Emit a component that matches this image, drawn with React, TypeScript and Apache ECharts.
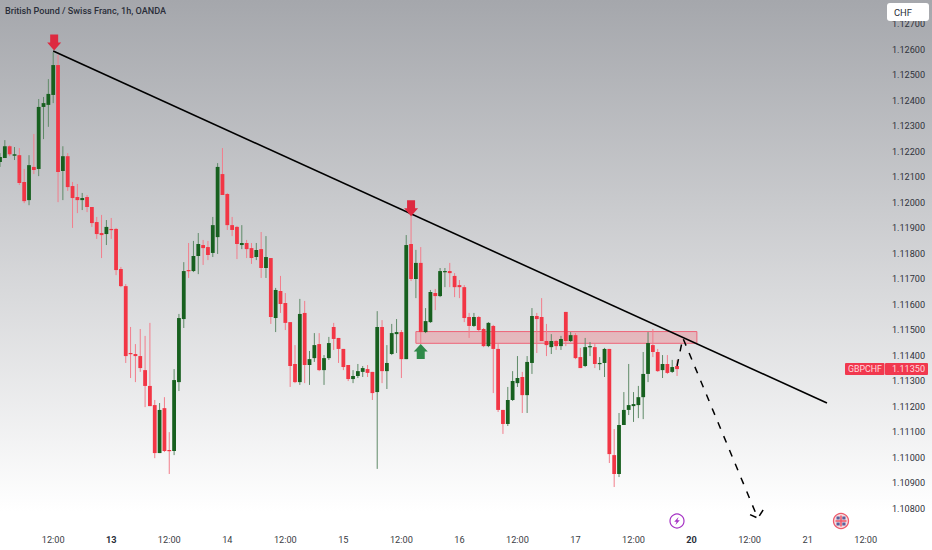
import React, { useEffect, useRef } from "react";
import * as echarts from "echarts";

const title = "British Pound / Swiss Franc, 1h, OANDA";
const firstHour = 1;
const opens = [1.12159,1.12175,1.12221,1.12184,1.12186,1.12081,1.12010,1.12140,1.12132,1.12375,1.12383,1.12422,1.12539,1.12124,1.12182,1.12065,1.12022,1.12010,1.12022,1.11983,1.11924,1.11881,1.11877,1.11897,1.11897,1.11740,1.11673,1.11411,1.11407,1.11399,1.11344,1.11282,1.11207,1.11019,1.11195,1.11031,1.11027,1.11297,1.11544,1.11736,1.11732,1.11791,1.11834,1.11826,1.11803,1.11865,1.12112,1.12034,1.11912,1.11905,1.11834,1.11842,1.11822,1.11787,1.11818,1.11744,1.11783,1.11548,1.11654,1.11607,1.11532,1.11368,1.11297,1.11568,1.11364,1.11391,1.11446,1.11344,1.11391,1.11513,1.11470,1.11427,1.11364,1.11309,1.11321,1.11337,1.11348,1.11337,1.11258,1.11513,1.11340,1.11407,1.11485,1.11493,1.11387,1.11838,1.11701,1.11764,1.11493,1.11532,1.11646,1.11634,1.11728,1.11732,1.11713,1.11677,1.11669,1.11552,1.11517,1.11552,1.11505,1.11438,1.11517,1.11427,1.11188,1.11133,1.11227,1.11293,1.11317,1.11246,1.11372,1.11556,1.11552,1.11458,1.11434,1.11458,1.11438,1.11572,1.11458,1.11481,1.11395,1.11360,1.11434,1.11434,1.11368,1.11372,1.11427,1.11011,1.10937,1.11129,1.11188,1.11203,1.11207,1.11238,1.11329,1.11442,1.11415,1.11344,1.11368,1.11337,1.11360];
const highs = [1.12194,1.12245,1.12225,1.12218,1.12214,1.12132,1.12186,1.12269,1.12406,1.12414,1.12484,1.12590,1.12579,1.12221,1.12194,1.12081,1.12073,1.12038,1.12030,1.11983,1.11944,1.11952,1.11932,1.11940,1.11901,1.11748,1.11681,1.11513,1.11446,1.11505,1.11478,1.11529,1.11227,1.11215,1.11238,1.11101,1.11348,1.11564,1.11767,1.11842,1.11850,1.11881,1.11854,1.11850,1.11944,1.12155,1.12214,1.12038,1.11944,1.11909,1.11912,1.11854,1.11842,1.11842,1.11885,1.11869,1.11783,1.11666,1.11713,1.11646,1.11532,1.11442,1.11623,1.11615,1.11419,1.11489,1.11489,1.11403,1.11474,1.11529,1.11470,1.11427,1.11364,1.11344,1.11368,1.11360,1.11364,1.11337,1.11575,1.11540,1.11442,1.11525,1.11544,1.11501,1.11873,1.11952,1.11815,1.11826,1.11587,1.11658,1.11662,1.11744,1.11744,1.11764,1.11724,1.11697,1.11677,1.11568,1.11568,1.11556,1.11509,1.11532,1.11521,1.11446,1.11188,1.11278,1.11340,1.11399,1.11337,1.11399,1.11587,1.11568,1.11626,1.11525,1.11485,1.11462,1.11478,1.11572,1.11493,1.11489,1.11431,1.11470,1.11454,1.11446,1.11395,1.11431,1.11427,1.11113,1.11176,1.11258,1.11368,1.11258,1.11282,1.11415,1.11493,1.11505,1.11427,1.11403,1.11403,1.11384,1.11384];
const lows = [1.12140,1.12175,1.12182,1.12167,1.12069,1.11998,1.11990,1.12112,1.12104,1.12249,1.12297,1.12390,1.12002,1.12010,1.12046,1.11901,1.11959,1.11971,1.11963,1.11905,1.11858,1.11783,1.11834,1.11858,1.11716,1.11669,1.11372,1.11313,1.11297,1.11337,1.11199,1.11203,1.10999,1.11019,1.11023,1.10937,1.11011,1.11262,1.11509,1.11705,1.11728,1.11720,1.11756,1.11775,1.11787,1.11799,1.12030,1.11893,1.11869,1.11779,1.11818,1.11783,1.11760,1.11775,1.11705,1.11705,1.11525,1.11493,1.11568,1.11501,1.11278,1.11293,1.11286,1.11293,1.11286,1.11376,1.11340,1.11286,1.11384,1.11423,1.11372,1.11344,1.11301,1.11293,1.11313,1.11317,1.11317,1.11227,1.10957,1.11293,1.11270,1.11403,1.11411,1.11313,1.11387,1.11693,1.11626,1.11450,1.11489,1.11529,1.11579,1.11630,1.11669,1.11669,1.11630,1.11626,1.11532,1.11470,1.11513,1.11497,1.11434,1.11434,1.11254,1.11180,1.11094,1.11125,1.11223,1.11278,1.11176,1.11176,1.11329,1.11411,1.11458,1.11399,1.11407,1.11423,1.11423,1.11438,1.11454,1.11387,1.11352,1.11356,1.11399,1.11352,1.11344,1.11317,1.10980,1.10886,1.10925,1.11129,1.11168,1.11141,1.11156,1.11152,1.11297,1.11395,1.11337,1.11313,1.11329,1.11333,1.11321];
const closes = [1.12179,1.12221,1.12190,1.12190,1.12077,1.12006,1.12147,1.12128,1.12375,1.12390,1.12426,1.12539,1.12120,1.12182,1.12061,1.12018,1.12010,1.12018,1.11983,1.11920,1.11877,1.11873,1.11905,1.11893,1.11736,1.11673,1.11399,1.11407,1.11399,1.11352,1.11282,1.11203,1.11019,1.11188,1.11027,1.11027,1.11305,1.11548,1.11732,1.11732,1.11791,1.11838,1.11822,1.11795,1.11912,1.12140,1.12030,1.11912,1.11893,1.11838,1.11842,1.11818,1.11783,1.11815,1.11744,1.11787,1.11552,1.11658,1.11603,1.11529,1.11360,1.11297,1.11564,1.11364,1.11387,1.11442,1.11344,1.11391,1.11450,1.11466,1.11427,1.11356,1.11309,1.11321,1.11340,1.11352,1.11333,1.11254,1.11513,1.11340,1.11372,1.11489,1.11493,1.11387,1.11834,1.11701,1.11764,1.11493,1.11536,1.11650,1.11634,1.11732,1.11732,1.11724,1.11669,1.11669,1.11548,1.11517,1.11552,1.11501,1.11438,1.11529,1.11427,1.11188,1.11133,1.11227,1.11301,1.11313,1.11246,1.11376,1.11556,1.11544,1.11458,1.11442,1.11458,1.11438,1.11466,1.11458,1.11481,1.11391,1.11352,1.11434,1.11438,1.11368,1.11372,1.11427,1.11015,1.10937,1.11129,1.11188,1.11207,1.11211,1.11238,1.11329,1.11450,1.11415,1.11340,1.11368,1.11333,1.11356,1.11348];
const timeTicks = [12,24,36,48,60,72,84,96,108,120,132,144,156,168,180];
const timeLabels = ["12:00","13","12:00","14","12:00","15","12:00","16","12:00","17","12:00","20","12:00","21","12:00"];
const boldLabels = ["13","20"];
const trendLine = [[12,1.12594],[172,1.11215]];
const wavePath = [[141,1.11360],[142.2,1.11470],[157.7,1.10764]];
const arrowBarbA = [[156.1,1.10778],[157.7,1.10764]];
const arrowBarbB = [[158.8,1.10796],[157.7,1.10764]];
const zone = [[87,1.11495],[145.1,1.11449]];
const downMarks = [[12.2,1.12627],[86,1.11978]];
const upMarks = [[88,1.11417]];
const lastPrice = "1.11350";

const RED = "#f23645";
const GREEN = "#17601f";
const RED_WICK = "#f27d8b";
const GREEN_WICK = "#5f8a68";
const DOWN_ARROW = "path://M3,0 H11 V8 H14 L7,16 L0,8 H3 Z";
const UP_ARROW = "path://M3,16 H11 V8 H14 L7,0 L0,8 H3 Z";
const FONT = "Roboto, sans-serif";

const candleRows = opens.map((o, i) => [firstHour + i, o, highs[i], lows[i], closes[i]]);

function renderCandle(params: any, api: any) {
  const h = api.value(0);
  const o = api.value(1);
  const hi = api.value(2);
  const lo = api.value(3);
  const c = api.value(4);
  const up = c >= o;
  const top = api.coord([h, Math.max(o, c)]);
  const bot = api.coord([h, Math.min(o, c)]);
  const pHi = api.coord([h, hi]);
  const pLo = api.coord([h, lo]);
  return {
    type: "group",
    children: [
      {
        type: "line",
        shape: { x1: top[0], y1: pHi[1], x2: top[0], y2: pLo[1] },
        style: { stroke: up ? GREEN_WICK : RED_WICK, lineWidth: 1 },
      },
      {
        type: "rect",
        shape: { x: top[0] - 1.9, y: top[1], width: 3.8, height: Math.max(bot[1] - top[1], 1.2) },
        style: { fill: up ? GREEN : RED },
      },
    ],
  };
}

const lineSeries = (name: string, data: number[][], width: number, dashed: boolean) => ({
  name,
  type: "line",
  data,
  z: 5,
  symbol: "none",
  silent: true,
  lineStyle: { color: "#000000", width, type: dashed ? [7, 8] : "solid" },
});

function flagIcon(x: number, y: number) {
  return {
    type: "group",
    x,
    y,
    z: 20,
    children: [
      { type: "circle", shape: { cx: 0, cy: 0, r: 7.5 }, style: { fill: "#f6dfe2", stroke: "#ef5a6c", lineWidth: 1.3 } },
      { type: "rect", shape: { x: -4.5, y: -4.5, width: 3.2, height: 3 }, style: { fill: "#5a5f9a" } },
      { type: "rect", shape: { x: 1.3, y: -4.5, width: 3.2, height: 3 }, style: { fill: "#5a5f9a" } },
      { type: "rect", shape: { x: -4.5, y: 1.5, width: 3.2, height: 3 }, style: { fill: "#5a5f9a" } },
      { type: "rect", shape: { x: 1.3, y: 1.5, width: 3.2, height: 3 }, style: { fill: "#5a5f9a" } },
      { type: "rect", shape: { x: -5.5, y: -0.8, width: 11, height: 1.6 }, style: { fill: "#ef5a6c" } },
      { type: "rect", shape: { x: -0.8, y: -5.5, width: 1.6, height: 11 }, style: { fill: "#ef5a6c" } },
    ],
  };
}

function boltIcon(x: number, y: number) {
  return {
    type: "group",
    x,
    y,
    z: 20,
    children: [
      { type: "circle", shape: { cx: 0, cy: 0, r: 7 }, style: { fill: "rgba(255,255,255,0.6)", stroke: "#a531c4", lineWidth: 1.2 } },
      {
        type: "polygon",
        shape: { points: [[1.6, -4], [-2.8, 0.8], [-0.4, 0.8], [-1.6, 4], [2.8, -0.8], [0.4, -0.8]] },
        style: { fill: "#a531c4" },
      },
    ],
  };
}

export default function App() {
  const ref = useRef<HTMLDivElement>(null);
  useEffect(() => {
    if (!ref.current) return;
    const chart = echarts.init(ref.current, undefined, { renderer: "svg" });
    chart.setOption({
      animation: false,
      backgroundColor: "transparent",
      title: {
        text: title,
        left: 5,
        top: 6,
        padding: 0,
        textStyle: { fontFamily: FONT, fontSize: 9.1, fontWeight: 500, color: "#2a2e39" },
      },
      grid: { left: 0, right: 47, top: 1, bottom: 15.5 },
      xAxis: {
        type: "value",
        min: firstHour,
        max: 184,
        axisLine: { show: false },
        axisTick: { show: false },
        splitLine: { show: false },
        axisLabel: {
          customValues: timeTicks,
          margin: 0,
          hideOverlap: false,
          showMinLabel: true,
          showMaxLabel: true,
          formatter: (v: number) => {
            const t = timeLabels[timeTicks.indexOf(v)] ?? "";
            return boldLabels.includes(t) ? `{b|${t}}` : t;
          },
          fontFamily: FONT,
          fontSize: 9.2,
          color: "#3a3d45",
          rich: { b: { fontFamily: FONT, fontSize: 9.2, fontWeight: 700, color: "#2a2e39" } },
        },
      },
      yAxis: {
        type: "value",
        position: "right",
        min: 1.107,
        max: 1.1279,
        interval: 0.001,
        axisLine: { show: false },
        axisTick: { show: false },
        splitLine: { show: false },
        axisLabel: {
          margin: 7,
          showMinLabel: false,
          showMaxLabel: false,
          fontFamily: FONT,
          fontSize: 9.1,
          color: "#2f323a",
          formatter: (v: number) => v.toFixed(5),
        },
      },
      series: [
        {
          name: "GBPCHF",
          type: "custom",
          data: candleRows,
          encode: { x: 0, y: [1, 2, 3, 4] },
          renderItem: renderCandle,
          clip: false,
          z: 2,
          silent: true,
        },
        {
          name: "Zone",
          type: "line",
          data: [],
          z: 4,
          silent: true,
          markArea: {
            silent: true,
            itemStyle: { color: "rgba(242,54,69,0.24)", borderColor: "#ee6478", borderWidth: 1 },
            data: [[{ xAxis: zone[0][0], yAxis: zone[0][1] }, { xAxis: zone[1][0], yAxis: zone[1][1] }]],
          },
        },
        lineSeries("Trend line", trendLine, 1.6, false),
        lineSeries("Projection", wavePath, 1.5, true),
        lineSeries("Projection head A", arrowBarbA, 1.5, true),
        lineSeries("Projection head B", arrowBarbB, 1.5, true),
        {
          name: "Sell marks",
          type: "scatter",
          data: downMarks,
          symbol: DOWN_ARROW,
          symbolSize: [14, 16],
          z: 6,
          silent: true,
          itemStyle: { color: "#dd2a40", opacity: 1 },
        },
        {
          name: "Buy marks",
          type: "scatter",
          data: upMarks,
          symbol: UP_ARROW,
          symbolSize: [14, 15],
          z: 6,
          silent: true,
          itemStyle: { color: "#2f8a49", opacity: 1 },
        },
      ],
      graphic: [
        { type: "rect", z: 20, shape: { x: 887, y: 3, width: 42, height: 18, r: 3 }, style: { fill: "#ffffff" } },
        { type: "text", z: 21, style: { text: "CHF", x: 894, y: 12, fill: "#2a2e39", font: `9.4px ${FONT}`, textVerticalAlign: "middle" } },
        { type: "rect", z: 20, shape: { x: 845, y: 363, width: 39.5, height: 12, r: 1 }, style: { fill: "#f1384e" } },
        { type: "rect", z: 20, shape: { x: 885, y: 363, width: 43, height: 12, r: 1 }, style: { fill: "#f1384e" } },
        { type: "text", z: 21, style: { text: "GBPCHF", x: 848, y: 369.2, fill: "#ffd9de", font: `8.8px ${FONT}`, textVerticalAlign: "middle" } },
        { type: "text", z: 21, style: { text: lastPrice, x: 892, y: 369.2, fill: "#ffd9de", font: `9.1px ${FONT}`, textVerticalAlign: "middle" } },
        boltIcon(677, 521),
        flagIcon(841, 521),
      ],
    });
    return () => chart.dispose();
  }, []);
  return (
    <div
      ref={ref}
      style={{
        position: "absolute",
        left: 0,
        top: 0,
        width: 932,
        height: 550,
        background: "linear-gradient(180deg, #a5a7ac 0%, #ffffff 93%)",
      }}
    />
  );
}
